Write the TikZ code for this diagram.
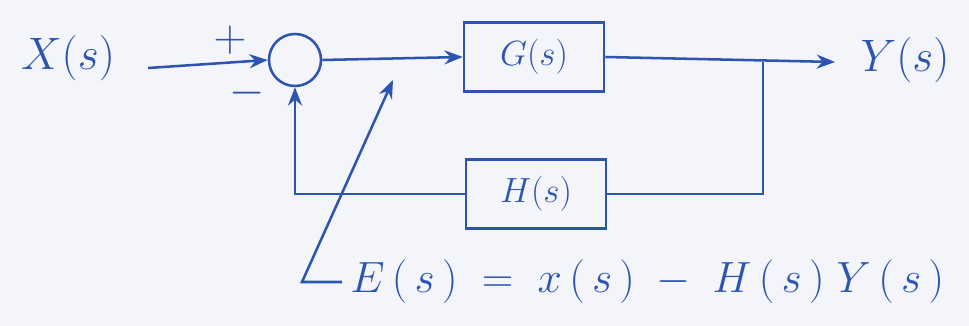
\documentclass[tikz,border=0pt]{standalone}
\usepackage{amsmath}
\usepackage{graphicx}
\usepackage{tikz}
\usetikzlibrary{positioning, arrows.meta}
\definecolor{ink}{RGB}{45,85,175}
\definecolor{paper}{RGB}{243,245,250}
\newcommand{\handbig}[1]{\scalebox{1.3}{#1}}

\begin{document}
\begin{tikzpicture}[x=0.025cm, y=-0.025cm,
    ink line/.style={draw=ink, line width=1.8pt},
    tip/.style={-{Stealth[length=13pt, width=10pt]}},
    block/.style={draw=ink, line width=1.8pt, minimum width=3.5cm, minimum height=1.72cm, inner sep=0pt},
    lbl/.style={text=ink, font=\Huge, inner sep=0pt},
    sign/.style={text=ink, font=\Huge, inner sep=0pt}]

    % Hintergrund und Rahmen
    \fill[paper] (0,0) rectangle (969,326);
    \useasboundingbox (0,0) rectangle (969,326);

    % Summationspunkt und Bloecke
    \node[draw=ink, line width=1.8pt, circle, minimum size=1.3cm, inner sep=0pt] (sum) at (295,60) {};
    \node[block] (G) at (534,57) {};
    \node[block] (H) at (536,194) {};
    \node[lbl] at (G.center) {$G(s)$};
    \node[lbl] at (H.center) {$H(s)$};

    % Ein- und Ausgang
    \node[lbl] (X) at (68,58) {\handbig{$X(s)$}};
    \node[lbl] (Y) at (905,60) {\handbig{$Y(s)$}};
    \coordinate (xs) at (148,68);
    \coordinate (ys) at (835,62);
    \coordinate (br) at (763,62);

    % Vorzeichen
    \node[sign] (plus) at (230,40) {\handbig{$+$}};
    \node[sign] (minus) at (247,93) {\handbig{$-$}};

    % Signalfluss
    \draw[ink line, tip] (xs) -- (sum.west);
    \draw[ink line, tip] (sum.east) -- (G.west);
    \draw[ink line, tip] (G.east) -- (ys);
    \draw[ink line] (br) |- (H.east);
    \draw[ink line, tip] (H.west) -| (sum.south);

    % Fehlersignal E(s)
    \coordinate (etip) at (393,80);
    \coordinate (ecorner) at (302,282);
    \coordinate (eend) at (342,282);
    \draw[ink line, tip] (eend) -- (ecorner) -- (etip);
    \node[lbl, anchor=west] (eq) at (350,282)
      {\scalebox{1.25}{$E\,(\,s\,)\;=\;x\,(\,s\,)\;-\;H\,(\,s\,)\;Y\,(\,s\,)$}};

\end{tikzpicture}
\end{document}
